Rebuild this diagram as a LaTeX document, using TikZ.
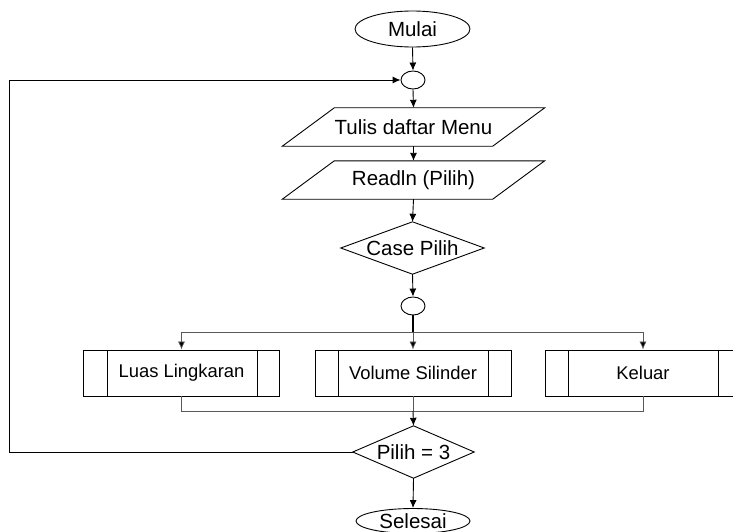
\documentclass[tikz,border=0pt]{standalone}
\usepackage{fontspec}
\setmainfont{Liberation Sans}
\usetikzlibrary{arrows.meta,shapes.geometric}
\begin{document}
\begin{tikzpicture}[x=1pt,y=-1pt,
  line/.style={line width=0.9pt, draw=black},
  arr/.style={line, -{Latex[length=8pt,width=7pt]}},
  thinln/.style={line width=0.7pt, draw=black!65},
  thinarr/.style={thinln, -{Latex[length=8pt,width=7pt,fill=black]}},
  bigfont/.style={font=\fontsize{20.5}{24}\selectfont},
  term/.style={ellipse, draw, line width=0.9pt, inner sep=0pt, minimum width=115pt, minimum height=36pt, bigfont},
  conn/.style={ellipse, draw, line width=0.9pt, inner sep=0pt, minimum width=24pt, minimum height=18pt},
  iobox/.style={draw=none, inner sep=0pt, minimum width=210pt, minimum height=38pt, bigfont},
  decbox/.style={draw=none, inner sep=0pt, bigfont},
  procbox/.style={draw, line width=0.9pt, inner sep=0pt, minimum width=196pt, minimum height=46pt, font=\fontsize{18.4}{22}\selectfont}
]
\useasboundingbox (0,0) rectangle (733,532);
\fill[white] (0,0) rectangle (733,532);

% nodes
\node[term] (start) at (412.5,29) {Mulai};
\node[conn] (c1) at (413,80) {};
\node[iobox] (tulis) at (413.5,127) {Tulis daftar Menu};
\node[iobox] (read) at (413.5,180) {Readln (Pilih)};
\node[decbox, minimum width=143pt, minimum height=52pt] (case) at (412.5,248) {Case Pilih};
\node[conn] (c2) at (413,306) {};
\node[procbox] (left) at (181.5,373) {Luas Lingkaran};
\node[procbox] (mid) at (413,373) {Volume Silinder};
\node[procbox] (right) at (643,373) {Keluar};
\node[decbox, minimum width=121pt, minimum height=52pt] (p3) at (413.5,452) {Pilih = 3};
\node[term, minimum width=114pt, minimum height=25pt] (stop) at (413,521) {Selesai};

% shapes drawn from node anchors
\foreach \n in {tulis,read}{
  \draw[line] ([xshift=-26pt]\n.south west) -- ([xshift=26pt]\n.north west)
    -- ([xshift=26pt]\n.north east) -- ([xshift=-26pt]\n.south east) -- cycle;
}
\foreach \n in {case,p3}{
  \draw[line] (\n.north) -- (\n.east) -- (\n.south) -- (\n.west) -- cycle;
}
\foreach \b in {left,mid,right}{
  \draw[line] ([xshift=24pt]\b.north west) -- ([xshift=24pt]\b.south west);
  \draw[line] ([xshift=-23pt]\b.north east) -- ([xshift=-23pt]\b.south east);
}

% connectors
\coordinate (br) at (413,332);
\coordinate (mg) at (413,411);
\coordinate (lp) at (9,452);
\draw[arr] (start.south) -- (c1.north);
\draw[arr] (c1.south) -- (tulis.north);
\draw[arr] (tulis.south) -- (read.north);
\draw[arr] (read.south) -- (case.north);
\draw[arr] (case.south) -- (c2.north);
\draw[line width=1.8pt] (c2.south) -- (br);
\draw[thinarr] (br) -- (mid.north);
\draw[thinarr] (br) -| (left.north);
\draw[thinarr] (br) -| (right.north);
\draw[thinln] (left.south) |- (mg);
\draw[thinln] (right.south) |- (mg);
\draw[thinln] (mid.south) -- (mg);
\draw[arr] (mg) -- (p3.north);
\draw[arr] (p3.south) -- (stop.north);
\draw[arr] (p3.west) -- (lp) |- (c1.west);
\end{tikzpicture}
\end{document}
